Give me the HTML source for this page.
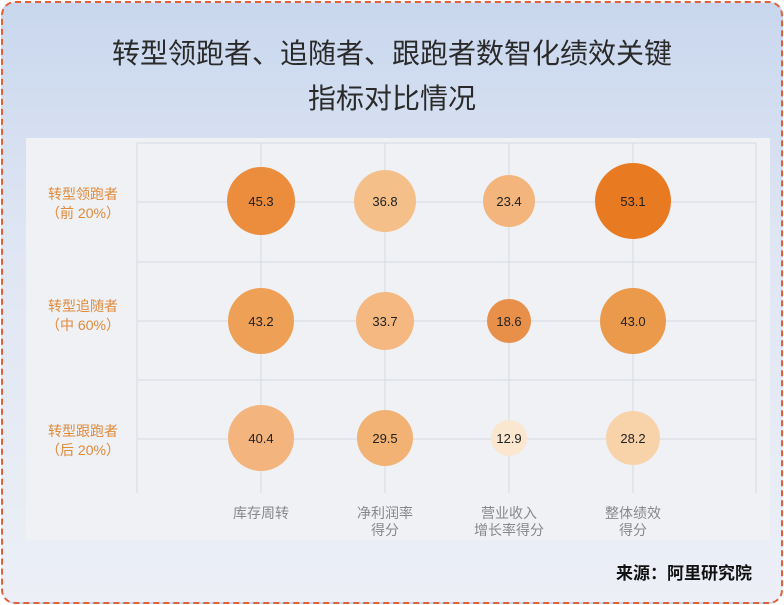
<!DOCTYPE html>
<html><head><meta charset="utf-8"><style>
html,body{margin:0;padding:0}
body{width:784px;height:605px;position:relative;overflow:hidden;background:#fff;font-family:"Liberation Sans","Noto Sans CJK SC",sans-serif}
.frame{position:absolute;left:1px;top:1px;width:778px;height:599px;border:2px dashed #e0603a;border-radius:14px;background:linear-gradient(180deg,#c9d7ee 0%,#dfe6f3 40%,#eceff6 100%)}
.title{position:absolute;left:0;width:784px;top:31px;text-align:center;font-size:28px;line-height:45px;color:#2a2a2a}
.panel{position:absolute;left:26px;top:138px;width:744px;height:402px;background:#eff1f5}
.src{position:absolute;right:32px;top:559px;font-size:17px;font-weight:bold;color:#111}
</style></head><body>
<div class="frame"></div>
<div class="title">转型领跑者、追随者、跟跑者数智化绩效关键<br>指标对比情况</div>
<div class="panel"></div>
<svg width="784" height="605" style="position:absolute;left:0;top:0" font-family="Liberation Sans, Noto Sans CJK SC, sans-serif">
<g stroke="#d6d9de" stroke-width="1">
<line x1="137" y1="143" x2="137" y2="493"/>
<line x1="261" y1="143" x2="261" y2="493"/>
<line x1="385" y1="143" x2="385" y2="493"/>
<line x1="509" y1="143" x2="509" y2="493"/>
<line x1="633" y1="143" x2="633" y2="493"/>
<line x1="756" y1="143" x2="756" y2="493"/>
<line x1="137" y1="143" x2="756" y2="143"/>
<line x1="137" y1="202" x2="756" y2="202"/>
<line x1="137" y1="262" x2="756" y2="262"/>
<line x1="137" y1="321" x2="756" y2="321"/>
<line x1="137" y1="380" x2="756" y2="380"/>
<line x1="137" y1="439" x2="756" y2="439"/>
</g>
<g>
<circle cx="261" cy="201" r="34" fill="#eb8d3d"/>
<circle cx="385" cy="201" r="31" fill="#f5bf8a"/>
<circle cx="509" cy="201" r="26" fill="#f3b57c"/>
<circle cx="633" cy="201" r="38" fill="#e87a22"/>
<circle cx="261" cy="321" r="33" fill="#eea056"/>
<circle cx="385" cy="321" r="29" fill="#f4b880"/>
<circle cx="509" cy="321" r="22" fill="#e8904a"/>
<circle cx="633" cy="321" r="33" fill="#eb9a4c"/>
<circle cx="261" cy="438" r="33" fill="#f3b57d"/>
<circle cx="385" cy="438" r="28" fill="#f1b274"/>
<circle cx="509" cy="438" r="18" fill="#fbe6d0"/>
<circle cx="633" cy="438" r="27" fill="#f8d3aa"/>
</g>
<g font-size="13" fill="#222" text-anchor="middle">
<text x="261" y="206">45.3</text><text x="385" y="206">36.8</text><text x="509" y="206">23.4</text><text x="633" y="206">53.1</text>
<text x="261" y="326">43.2</text><text x="385" y="326">33.7</text><text x="509" y="326">18.6</text><text x="633" y="326">43.0</text>
<text x="261" y="443">40.4</text><text x="385" y="443">29.5</text><text x="509" y="443">12.9</text><text x="633" y="443">28.2</text>
</g>
<g font-size="14" fill="#e08a3a" text-anchor="middle">
<text x="83" y="199">转型领跑者</text><text x="83" y="218">（前 20%）</text>
<text x="83" y="311">转型追随者</text><text x="83" y="330">（中 60%）</text>
<text x="83" y="436">转型跟跑者</text><text x="83" y="455">（后 20%）</text>
</g>
<g font-size="14" fill="#888" text-anchor="middle">
<text x="261" y="518">库存周转</text>
<text x="385" y="518">净利润率</text><text x="385" y="535">得分</text>
<text x="509" y="518">营业收入</text><text x="509" y="535">增长率得分</text>
<text x="633" y="518">整体绩效</text><text x="633" y="535">得分</text>
</g>
</svg>
<div class="src">来源：阿里研究院</div>
</body></html>
